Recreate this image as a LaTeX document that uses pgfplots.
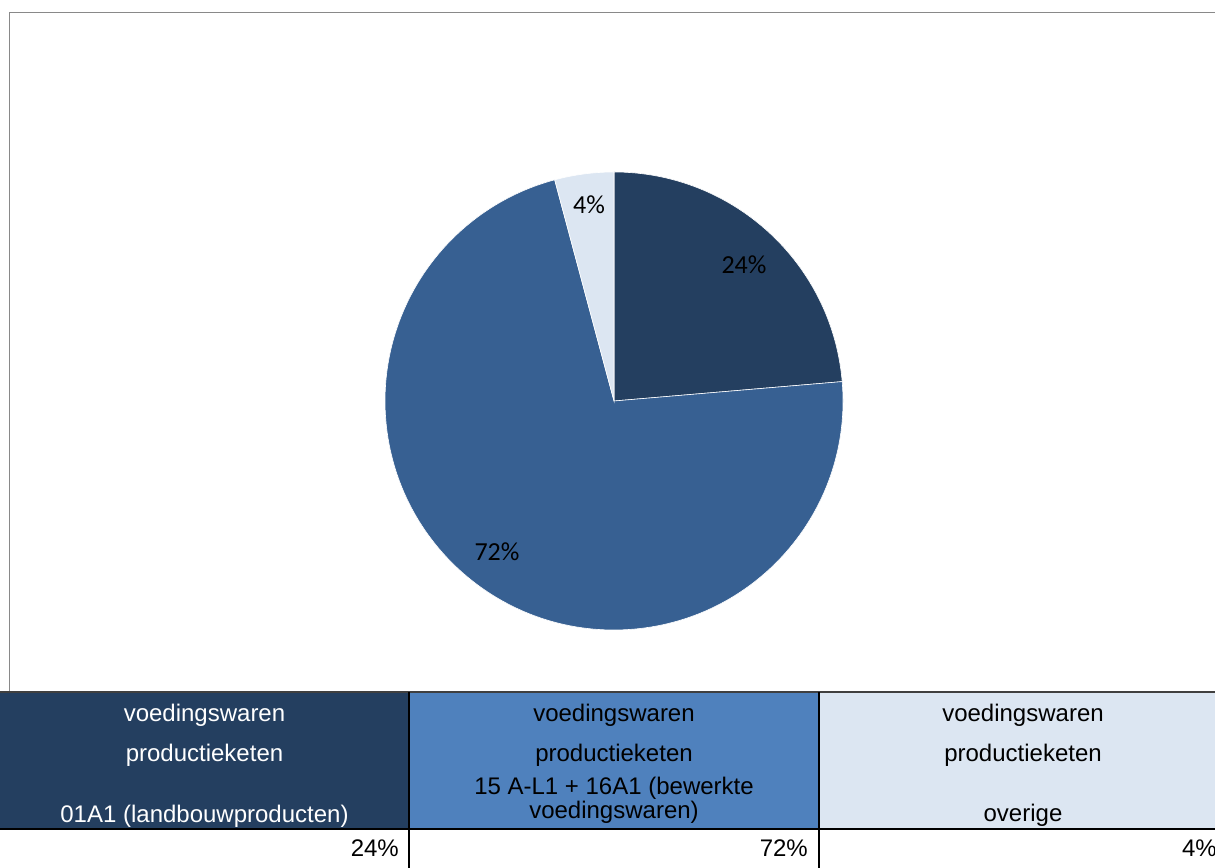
\documentclass[border=0pt]{standalone}
\usepackage{pgfplots}
\pgfplotsset{compat=1.18}
\usepackage{fontspec}
\setmainfont{Liberation Sans}
\newfontfamily\carlito{Carlito}
\definecolor{pieA}{HTML}{243F60}
\definecolor{pieB}{HTML}{376092}
\definecolor{pieC}{HTML}{DCE6F2}
\definecolor{tabB}{HTML}{4F81BD}
\definecolor{frame}{HTML}{898989}
\begin{document}
\begin{tikzpicture}[x=1bp,y=1bp]
\useasboundingbox (0,0) rectangle (1215,868);
\clip (0,0) rectangle (1215,868);
% data (shares in percent)
\def\va{23.65}\def\vb{72.18}\def\vc{4.17}
\pgfmathsetmacro\aA{90-3.6*\va}
\pgfmathsetmacro\aB{\aA-3.6*\vb}
\pgfmathsetmacro\aC{\aB-3.6*\vc}
% chart frame
\draw[frame, line width=1.5bp] (9.5,176) -- (9.5,855.5) -- (1240,855.5);
\begin{axis}[at={(614bp,467bp)}, anchor=center, width=458bp, height=458bp,
  scale only axis, xmin=-229, xmax=229, ymin=-229, ymax=229, hide axis, clip=false]
\filldraw[fill=pieA, draw=white, line width=0.6bp] (axis cs:0,0) -- ++(90:229bp) arc[start angle=90, end angle=\aA, radius=229bp] -- cycle;
\filldraw[fill=pieB, draw=white, line width=0.6bp] (axis cs:0,0) -- ++(\aA:229bp) arc[start angle=\aA, end angle=\aB, radius=229bp] -- cycle;
\filldraw[fill=pieC, draw=white, line width=0.6bp] (axis cs:0,0) -- ++(\aB:229bp) arc[start angle=\aB, end angle=\aC, radius=229bp] -- cycle;
\node[text=black] at (axis cs:130,136) {\carlito\fontsize{26bp}{30bp}\selectfont 24\%};
\node[text=black] at (axis cs:-117,-151) {\carlito\fontsize{26bp}{30bp}\selectfont 72\%};
\node[text=black] at (axis cs:-25,196) {\carlito\fontsize{26bp}{30bp}\selectfont 4\%};
\end{axis}
% table
\fill[pieA] (0,39) rectangle (409,176);
\fill[tabB] (409,39) rectangle (819,176);
\fill[pieC] (819,39) rectangle (1227,176);
\draw[black!75, line width=1.2bp] (0,176) -- (1227,176);
\draw[black, line width=1.3bp] (0,39) -- (1227,39);
\draw[black, line width=1.3bp] (409,0) -- (409,176);
\draw[black, line width=1.3bp] (819,0) -- (819,176);
\begin{scope}[every node/.style={font=\fontsize{24bp}{28bp}\selectfont, inner sep=0pt, anchor=base}]
\node[text=white] at (204.5,146) {voedingswaren};
\node[text=white] at (204.5,106) {productieketen};
\node[text=white] at (204.5,45) {01A1 (landbouwproducten)};
\node[text=black] at (614,146) {voedingswaren};
\node[text=black] at (614,106) {productieketen};
\node[text=black] at (614,73) {15 A-L1 + 16A1 (bewerkte};
\node[text=black] at (614,49) {voedingswaren)};
\node[text=black] at (1023,146) {voedingswaren};
\node[text=black] at (1023,106) {productieketen};
\node[text=black] at (1023,46) {overige};
\node[text=black, anchor=base east] at (399,11) {24\%};
\node[text=black, anchor=base east] at (808,11) {72\%};
\node[text=black, anchor=base east] at (1217,11) {4\%};
\end{scope}
\end{tikzpicture}
\end{document}
